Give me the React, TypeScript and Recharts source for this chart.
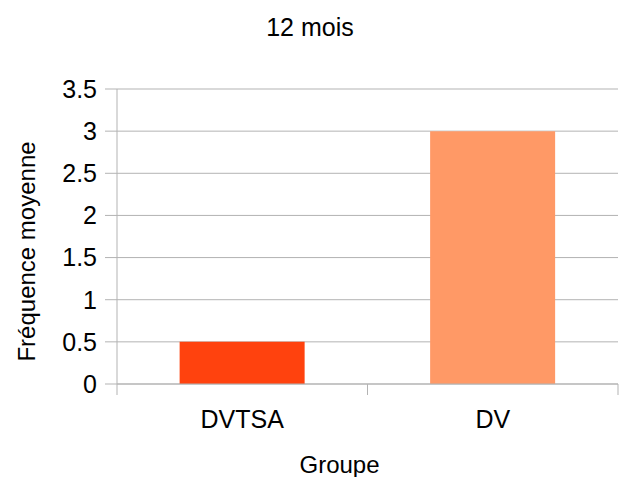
import { Bar, BarChart, CartesianGrid, Cell, XAxis, YAxis } from "recharts";

const GROUPS = ["DVTSA", "DV"];
const MEANS = [0.5, 3];
const COLORS = ["#ff420e", "#ff9966"];
const Y_TICKS = [0, 0.5, 1, 1.5, 2, 2.5, 3, 3.5];

const FONT = "'Liberation Sans', Arial, sans-serif";
const GRID = "#b3b3b3";
const TICK_SIZE = 11;
const TICK_MARGIN = 15;

const data = GROUPS.map((g, i) => ({ group: g, value: MEANS[i] }));

// category label plus tick marks on the band edges (LibreOffice style)
function GroupTick(props: any) {
  const { x, y, payload, index, visibleTicksCount } = props;
  const half = payload.offset ?? 0;
  const top = y - TICK_SIZE - TICK_MARGIN;
  const isLast = index === visibleTicksCount - 1;
  return (
    <g>
      <line x1={x - half} x2={x - half} y1={top} y2={top + TICK_SIZE} stroke={GRID} />
      {isLast && <line x1={x + half} x2={x + half} y1={top} y2={top + TICK_SIZE} stroke={GRID} />}
      <text x={x} y={y} dy="0.71em" textAnchor="middle" fontSize={25} fill="#000" fontFamily={FONT}>
        {payload.value}
      </text>
    </g>
  );
}

export default function App() {
  return (
    <div style={{ position: "absolute", left: 0, top: 0, width: 623, height: 477, background: "#fff", fontFamily: FONT }}>
      <div
        style={{
          position: "absolute",
          top: 13,
          left: 0,
          width: 620,
          textAlign: "center",
          fontSize: 25,
          color: "#000",
        }}
      >
        12 mois
      </div>
      <BarChart
        width={623}
        height={477}
        data={data}
        margin={{ top: 89, right: 5, left: 0, bottom: 33 }}
        barCategoryGap="25%"
      >
        <CartesianGrid stroke={GRID} vertical={false} />
        <XAxis
          dataKey="group"
          height={60}
          axisLine={{ stroke: GRID }}
          tickLine={false}
          tickSize={TICK_SIZE}
          tickMargin={TICK_MARGIN}
          tick={<GroupTick />}
          label={{
            value: "Groupe",
            position: "bottom",
            offset: 12,
            dx: -28,
            fontSize: 24,
            fill: "#000",
            fontFamily: FONT,
          }}
        />
        <YAxis
          width={117}
          domain={[0, 3.5]}
          ticks={Y_TICKS}
          tickSize={12}
          tickMargin={8}
          tickLine={{ stroke: GRID }}
          axisLine={{ stroke: GRID }}
          tick={{ fontSize: 25, fill: "#000", fontFamily: FONT }}
          label={{
            value: "Fréquence moyenne",
            angle: -90,
            position: "center",
            dx: -32,
            dy: 15,
            fontSize: 24,
            fill: "#000",
            fontFamily: FONT,
          }}
        />
        <Bar dataKey="value" isAnimationActive={false}>
          {data.map((d, i) => (
            <Cell key={d.group} fill={COLORS[i]} />
          ))}
        </Bar>
      </BarChart>
    </div>
  );
}
